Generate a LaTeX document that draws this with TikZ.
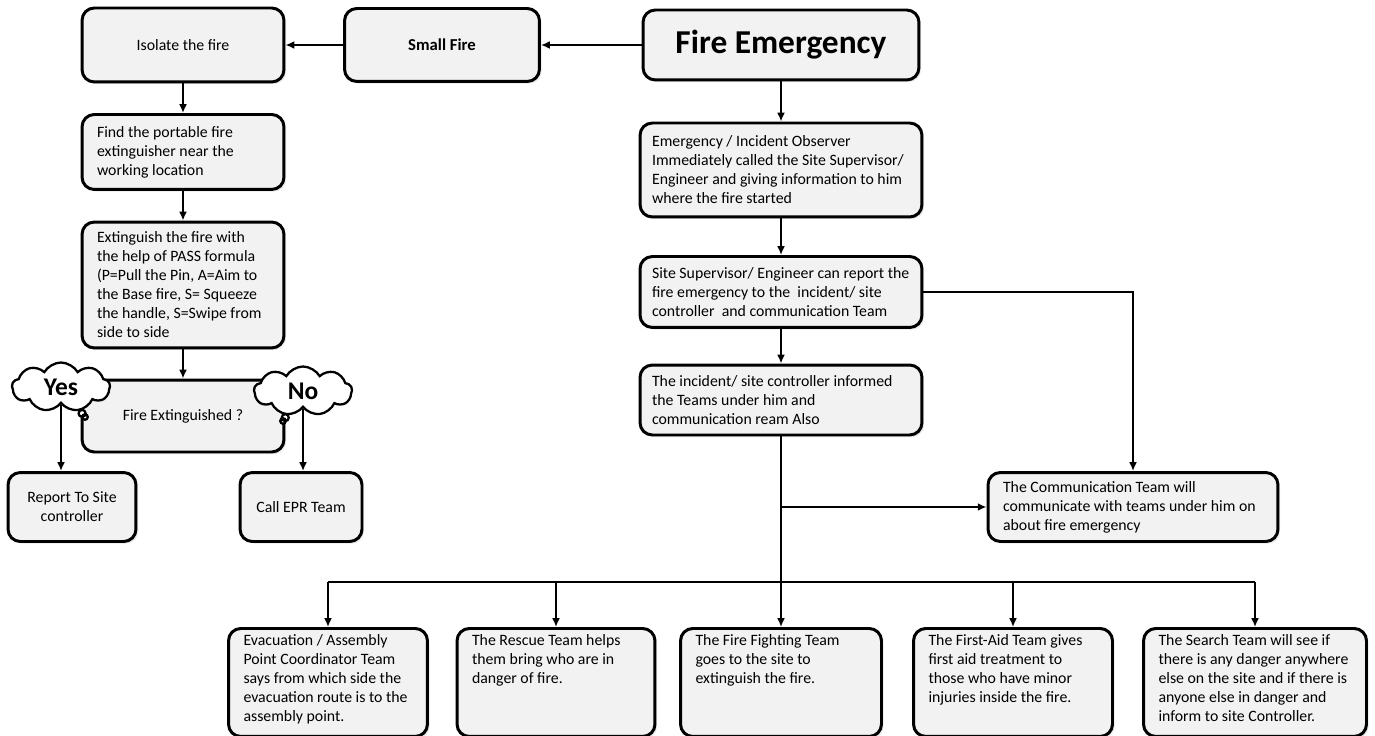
\documentclass[tikz,border=0pt]{standalone}
\usepackage{fontspec}
\setmainfont{Carlito}
\usetikzlibrary{arrows.meta,positioning,shapes.callouts,shadows}
\definecolor{ink}{HTML}{000000}
\definecolor{boxfill}{HTML}{F2F2F2}
\tikzset{
  blk/.style={rectangle,rounded corners=7pt,draw=ink,fill=boxfill,
              line width=1.7pt,inner xsep=0.3cm,inner ysep=3pt,
              font=\fontsize{9}{10.8}\selectfont,
              drop shadow={shadow xshift=1.2pt,shadow yshift=-1.2pt,
                           opacity=0.18}},
  lblk/.style={blk,execute at begin node={\begin{minipage}{#1}\raggedright},
               execute at end node={\end{minipage}}},
  lblk/.default=3.44cm,
  cblk/.style={blk,align=center,minimum width=#1},
  cblk/.default=4.04cm,
  tbox/.style={blk,minimum height=2.16cm,anchor=north,
               execute at begin node={\begin{minipage}[t][1.9cm][t]{#1}%
                 \raggedright},
               execute at end node={\end{minipage}}},
  cld/.style={cloud callout,draw=ink,fill=white,line width=1.3pt,
              cloud puffs=9,cloud puff arc=120,cloud ignores aspect,
              minimum width=1.96cm,minimum height=0.98cm,inner sep=1pt,
              callout pointer start size=0.17cm,callout pointer end size=0.11cm,
              callout pointer segments=2,
              font=\fontsize{14.5}{16}\selectfont\bfseries},
  arr/.style={-{Latex[length=5pt,width=4.5pt]},line width=1pt,color=ink},
  lnk/.style={line width=1pt,color=ink},
}
\begin{document}
\begin{tikzpicture}[x=0.02cm,y=-0.02cm]
  \useasboundingbox (0,0) rectangle (1375,736);

  % top row
  \node[cblk=5.52cm,minimum height=1.4cm,
        font=\fontsize{19}{22}\selectfont\bfseries] (fire) at (781,45) {Fire Emergency};
  \node[cblk=3.9cm,minimum height=1.46cm,font=\fontsize{9.5}{11}\selectfont\bfseries]
        (small) at (442,45) {Small Fire};
  \node[cblk,minimum height=1.48cm] (iso) at (183,45) {Isolate the fire};

  % small fire branch
  \node[lblk,minimum height=1.5cm] (find) at (183,152)
        {Find the portable fire\\extinguisher near the\\working location};
  \node[lblk,minimum height=2.52cm] (ext) at (183,285)
        {Extinguish the fire with\\the help of PASS formula\\(P=Pull the Pin, A=Aim to\\the Base fire, S= Squeeze\\the handle, S=Swipe from\\side to side};
  \node[cblk,minimum height=1.44cm] (fext) at (183,416) {Fire Extinguished ?};
  \node[cld,callout absolute pointer={(85,417)}] (yes) at (61,387) {Yes};
  \node[cld,callout absolute pointer={(283,421)}] (no) at (303,391) {No};
  \node[cblk=2.56cm,minimum height=1.38cm] (rpt) at (72,507) {Report To Site\\controller};
  \node[cblk=2.44cm,minimum height=1.38cm] (epr) at (301,507) {Call EPR Team};

  % main chain
  \node[lblk=5.16cm,inner xsep=0.24cm,minimum height=1.88cm] (obs) at (781,170)
        {Emergency / Incident Observer\\Immediately called the Site Supervisor/\\Engineer and giving information to him\\where the fire started};
  \node[lblk=5.16cm,inner xsep=0.24cm,minimum height=1.42cm] (sup) at (781,292)
        {Site Supervisor/ Engineer can report the\\fire emergency to the\ \ incident/ site\\controller\ \ and communication Team};
  \node[lblk=5.16cm,inner xsep=0.24cm,minimum height=1.4cm] (ctl) at (781,400)
        {The incident/ site controller informed\\the Teams under him and\\communication ream Also};
  \node[lblk=5.2cm,minimum height=1.38cm] (comm) at (1133,507)
        {The Communication Team will\\communicate with teams under him on\\about fire emergency};

  % teams
  \node[tbox=3.38cm] (evac) at (328,627)
        {Evacuation / Assembly\\Point Coordinator Team\\says from which side the\\evacuation route is to the\\assembly point.};
  \node[tbox=3.36cm] (rescue) at (556,627)
        {The Rescue Team helps\\them bring who are in\\danger of fire.};
  \node[tbox=3.42cm] (fight) at (781,627)
        {The Fire Fighting Team\\goes to the site to\\extinguish the fire.};
  \node[tbox=3.38cm] (aid) at (1013,627)
        {The First-Aid Team gives\\first aid treatment to\\those who have minor\\injuries inside the fire.};
  \node[tbox=3.86cm] (search) at (1255,627)
        {The Search Team will see if\\there is any danger anywhere\\else on the site and if there is\\anyone else in danger and\\inform to site Controller.};

  \coordinate (br) at (ctl.south |- 0,582);

  \draw[arr] (fire) -- (small);
  \draw[arr] (small) -- (iso);
  \draw[arr] (iso) -- (find);
  \draw[arr] (find) -- (ext);
  \draw[arr] (ext) -- (fext);
  \draw[arr] (yes.south) -- (yes.south |- rpt.north);
  \draw[arr] (no.south) -- (no.south |- epr.north);

  \draw[arr] (fire) -- (obs);
  \draw[arr] (obs) -- (sup);
  \draw[arr] (sup) -- (ctl);
  \draw[arr] (sup.east) -| (comm.north);
  \draw[lnk] (ctl.south) -- (br);
  \draw[arr] (ctl.south |- comm.west) -- (comm.west);
  \draw[lnk] (evac.north |- br) -- (search.north |- br);
  \draw[arr] (evac.north |- br) -- (evac.north);
  \draw[arr] (rescue.north |- br) -- (rescue.north);
  \draw[arr] (fight.north |- br) -- (fight.north);
  \draw[arr] (aid.north |- br) -- (aid.north);
  \draw[arr] (search.north |- br) -- (search.north);
\end{tikzpicture}
\end{document}
